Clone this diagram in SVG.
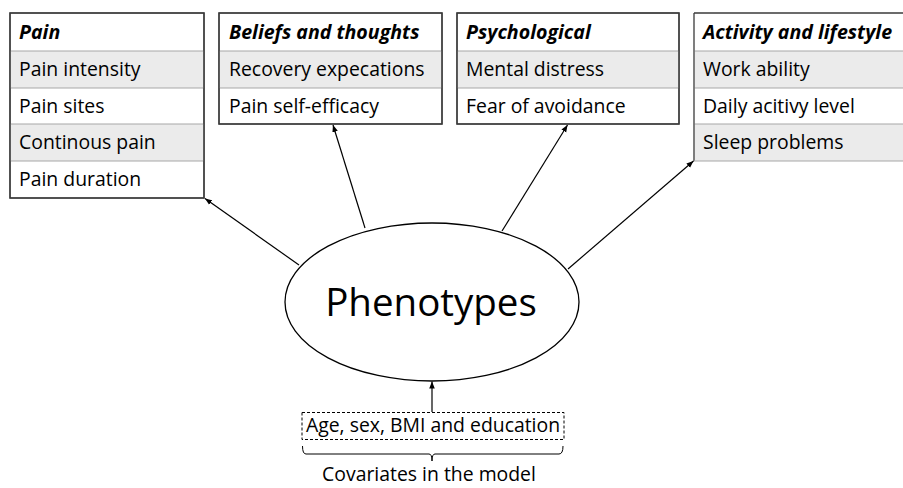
<svg xmlns="http://www.w3.org/2000/svg" width="903" height="488" viewBox="0 0 903 488">
<defs>
<style>
.box{fill:#ffffff;stroke:#3a3a3a;stroke-width:1.3}
.gray{fill:#ebebeb;stroke:none}
.sep{stroke:#a8a8a8;stroke-width:1.2}
.hd{font-family:"Open Sans","Liberation Sans",sans-serif;font-size:19.6px;font-weight:bold;font-style:italic;fill:#000}
.tx{font-family:"Open Sans","Liberation Sans",sans-serif;font-size:19.4px;fill:#000}
.big{font-family:"Open Sans","Liberation Sans",sans-serif;font-size:38.5px;fill:#000}
.conn{stroke:#000;stroke-width:1.2;fill:none}
</style>
<marker id="ah" viewBox="0 0 10 10" refX="10" refY="5" markerWidth="7" markerHeight="7" orient="auto" markerUnits="userSpaceOnUse">
<path d="M0,1 L10,5 L0,9 z" fill="#000"/>
</marker>
</defs>
<rect width="903" height="488" fill="#ffffff"/>

<g id="pain">
<rect class="box" x="10" y="13" width="194" height="185"/>
<rect class="gray" x="10.7" y="51" width="192.6" height="37"/>
<rect class="gray" x="10.7" y="124" width="192.6" height="37"/>
<line class="sep" x1="10.7" y1="51" x2="203.3" y2="51"/>
<line class="sep" x1="10.7" y1="88" x2="203.3" y2="88"/>
<line class="sep" x1="10.7" y1="124" x2="203.3" y2="124"/>
<line class="sep" x1="10.7" y1="161" x2="203.3" y2="161"/>
<rect x="10" y="13" width="194" height="185" fill="none" stroke="#3a3a3a" stroke-width="1.3"/>
<text class="hd" x="19" y="39">Pain</text>
<text class="tx" x="19" y="76">Pain intensity</text>
<text class="tx" x="19" y="113">Pain sites</text>
<text class="tx" x="19" y="149">Continous pain</text>
<text class="tx" x="19" y="186">Pain duration</text>
</g>

<g id="beliefs">
<rect class="box" x="219" y="13" width="223" height="111"/>
<rect class="gray" x="219.7" y="51" width="221.6" height="37"/>
<line class="sep" x1="219.7" y1="51" x2="441.3" y2="51"/>
<line class="sep" x1="219.7" y1="88" x2="441.3" y2="88"/>
<rect x="219" y="13" width="223" height="111" fill="none" stroke="#3a3a3a" stroke-width="1.3"/>
<text class="hd" x="229" y="39">Beliefs and thoughts</text>
<text class="tx" x="229" y="76">Recovery expecations</text>
<text class="tx" x="229" y="113">Pain self-efficacy</text>
</g>

<g id="psychological">
<rect class="box" x="457" y="13" width="222" height="111"/>
<rect class="gray" x="457.7" y="51" width="220.6" height="37"/>
<line class="sep" x1="457.7" y1="51" x2="678.3" y2="51"/>
<line class="sep" x1="457.7" y1="88" x2="678.3" y2="88"/>
<rect x="457" y="13" width="222" height="111" fill="none" stroke="#3a3a3a" stroke-width="1.3"/>
<text class="hd" x="466" y="39">Psychological</text>
<text class="tx" x="466" y="76">Mental distress</text>
<text class="tx" x="466" y="113">Fear of avoidance</text>
</g>

<g id="activity">
<rect class="gray" x="694.7" y="51" width="220" height="37"/>
<rect class="gray" x="694.7" y="124" width="220" height="37"/>
<line class="sep" x1="694.7" y1="51" x2="910" y2="51"/>
<line class="sep" x1="694.7" y1="88" x2="910" y2="88"/>
<line class="sep" x1="694.7" y1="124" x2="910" y2="124"/>
<line x1="694" y1="13" x2="910" y2="13" stroke="#3a3a3a" stroke-width="1.3"/>
<line x1="694" y1="13" x2="694" y2="161" stroke="#3a3a3a" stroke-width="1.3"/>
<line class="sep" x1="694" y1="161" x2="910" y2="161"/>
<text class="hd" x="703" y="39">Activity and lifestyle</text>
<text class="tx" x="703" y="76">Work ability</text>
<text class="tx" x="703" y="113">Daily acitivy level</text>
<text class="tx" x="703" y="149">Sleep problems</text>
</g>

<g id="phenotypes">
<ellipse cx="432" cy="302" rx="147" ry="79" fill="#ffffff" stroke="#000" stroke-width="1.3"/>
<text class="big" x="431" y="316" text-anchor="middle">Phenotypes</text>
</g>

<g id="covariates">
<rect x="302" y="412.5" width="262" height="27" fill="none" stroke="#000" stroke-width="1" stroke-dasharray="3,2"/>
<text class="tx" x="433" y="432" text-anchor="middle">Age, sex, BMI and education</text>
<path d="M302.5,446 Q302.5,454 306,454 L429,454 Q432,454 432,461 Q432,454 435,454 L559,454 Q563,454 563,446" fill="none" stroke="#000" stroke-width="1"/>
<text class="tx" x="429" y="481" text-anchor="middle">Covariates in the model</text>
</g>

<g id="connectors">
<line class="conn" x1="299" y1="265" x2="205" y2="198.5" marker-end="url(#ah)"/>
<line class="conn" x1="365" y1="228" x2="333" y2="125" marker-end="url(#ah)"/>
<line class="conn" x1="502" y1="231" x2="567.5" y2="125" marker-end="url(#ah)"/>
<line class="conn" x1="568" y1="269" x2="693.5" y2="161" marker-end="url(#ah)"/>
<line class="conn" x1="432" y1="412" x2="432" y2="381.5" marker-end="url(#ah)"/>
</g>
</svg>
